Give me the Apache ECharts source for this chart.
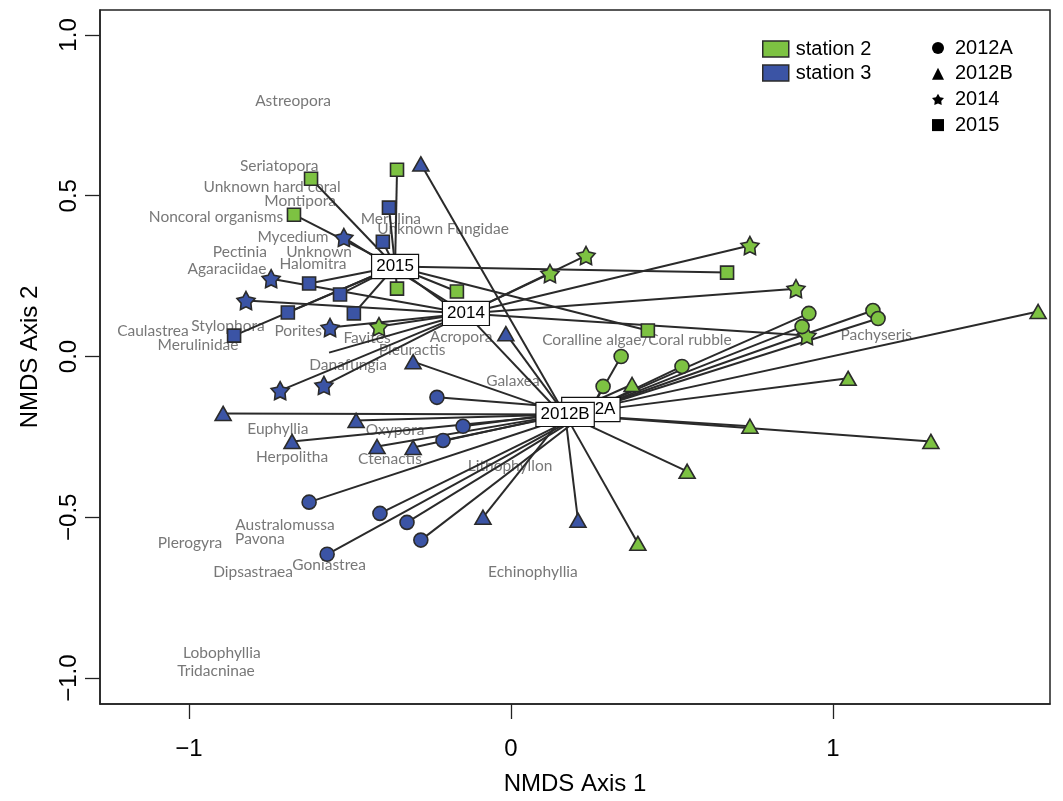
<!DOCTYPE html>
<html><head><meta charset="utf-8">
<script src="https://cdn.jsdelivr.net/npm/echarts@6/dist/echarts.min.js"></script>
<style>html,body{margin:0;padding:0;background:#fff}#c{width:1063px;height:801px}</style>
</head><body><div id="c"></div>
<script>
// ---- data (NMDS scores) ----
const st2_2012A = [[0.342,0.000],[0.286,-0.093],[0.531,-0.031],[0.925,0.134],[0.904,0.093],[1.124,0.143],[1.140,0.118]];
const st2_2012B = [[0.376,-0.087],[1.047,-0.068],[1.637,0.140],[0.742,-0.217],[1.304,-0.264],[0.547,-0.357],[0.394,-0.581]];
const st2_2014  = [[0.121,0.258],[0.233,0.314],[0.742,0.345],[0.885,0.211],[0.919,0.065],[-0.410,0.093]];
const st2_2015  = [[-0.621,0.553],[-0.354,0.581],[-0.674,0.441],[-0.354,0.211],[-0.168,0.202],[0.671,0.261],[0.425,0.081]];
const st3_2012A = [[-0.230,-0.127],[-0.149,-0.217],[-0.211,-0.261],[-0.627,-0.453],[-0.407,-0.488],[-0.323,-0.516],[-0.280,-0.571],[-0.571,-0.615]];
const st3_2012B = [[-0.280,0.599],[-0.016,0.071],[-0.304,-0.016],[-0.894,-0.177],[-0.481,-0.199],[-0.680,-0.264],[-0.416,-0.280],[-0.304,-0.283],[-0.087,-0.500],[0.208,-0.509]];
const st3_2014  = [[-0.519,0.370],[-0.745,0.242],[-0.823,0.174],[-0.562,0.090],[-0.717,-0.106],[-0.581,-0.090]];
const st3_2015  = [[-0.379,0.463],[-0.398,0.357],[-0.627,0.227],[-0.531,0.193],[-0.693,0.137],[-0.488,0.134],[-0.860,0.065]];
// spider ends whose markers are not visible (covered / not drawn)
const lineOnly2014 = [[-0.565,0.012],[0.152,-0.174]];
const lineOnly2015 = [[-0.152,0.127]];

const centroidNames = ['2012A','2012B','2014','2015'];
const centroidX = [0.248, 0.168, -0.140, -0.360];
const centroidY = [-0.165, -0.180, 0.134, 0.280];

const speciesNames = ['Astreopora','Seriatopora','Unknown hard coral','Montipora','Noncoral organisms','Merulina','Unknown Fungidae','Mycedium','Pectinia','Unknown','Halomitra','Agaraciidae','Stylophora','Caulastrea','Porites','Merulinidae','Favites','Pleuractis','Acropora','Danafungia','Coralline algae/Coral rubble','Pachyseris','Galaxea','Euphyllia','Oxypora','Herpolitha','Ctenactis','Lithophyllon','Australomussa','Pavona','Plerogyra','Goniastrea','Dipsastraea','Echinophyllia','Lobophyllia','Tridacninae'];
const speciesX = [-0.677,-0.720,-0.742,-0.655,-0.916,-0.373,-0.211,-0.677,-0.842,-0.596,-0.615,-0.882,-0.879,-1.112,-0.661,-0.972,-0.447,-0.307,-0.155,-0.506,0.391,1.134,0.006,-0.724,-0.360,-0.680,-0.376,-0.003,-0.702,-0.780,-0.997,-0.565,-0.801,0.068,-0.898,-0.916];
const speciesY = [0.795,0.593,0.528,0.484,0.435,0.429,0.398,0.373,0.326,0.326,0.289,0.273,0.096,0.078,0.078,0.037,0.056,0.019,0.062,-0.025,0.050,0.068,-0.075,-0.224,-0.230,-0.314,-0.320,-0.339,-0.525,-0.568,-0.581,-0.649,-0.671,-0.671,-0.922,-0.978];

const xTicks = [-1, 0, 1];
const yTicks = [-1, -0.5, 0, 0.5, 1];

// ---- styles ----
const GREEN = '#7dc242', BLUE = '#3b54a5', EDGE = '#2b2b2b';
const STAR = 'path://M50 0L65.87 28.16L97.55 34.55L75.68 58.34L79.39 90.45L50 77L20.61 90.45L24.32 58.34L2.45 34.55L34.13 28.16Z';
const fmtMinus = s => s.replace('-', '\u2212');

function spider(ci, pts) {
  const c = [centroidX[ci], centroidY[ci]];
  return pts.map(p => ({coords: [c, p]}));
}
const spiderData = [].concat(
  spider(0, st2_2012A), spider(0, st3_2012A),
  spider(1, st2_2012B), spider(1, st3_2012B),
  spider(2, st2_2014), spider(2, st3_2014), spider(2, lineOnly2014),
  spider(3, st2_2015), spider(3, st3_2015), spider(3, lineOnly2015)
);

function pts(name, data, color, symbol, size) {
  return {
    name, type: 'scatter', data, symbol, symbolSize: size, z: 4,
    itemStyle: {color, borderColor: EDGE, borderWidth: 1.6, opacity: 1},
    emphasis: {disabled: true}, silent: true
  };
}
function centroidSeries(i, z) {
  return {
    type: 'scatter', z, silent: true, symbolSize: 1,
    itemStyle: {color: '#fff', opacity: 1},
    data: [{name: centroidNames[i], value: [centroidX[i], centroidY[i]]}],
    label: {show: true, position: 'inside', formatter: '{b}', color: '#000', opacity: 1,
      fontFamily: 'Liberation Sans, Arial', fontSize: 17, lineHeight: 17,
      backgroundColor: '#ffffff', borderColor: '#111', borderWidth: 1.2, padding: [3, 4]}
  };
}
function legendDummy(name, color, symbol) {
  return {name, type: 'scatter', data: [], symbol: symbol || 'rect',
    itemStyle: {color, opacity: 1, borderColor: EDGE, borderWidth: 1.5}};
}

const option = {
  animation: false,
  backgroundColor: '#fff',
  grid: {left: 100, right: 13, top: 10, bottom: 96, show: true, borderColor: '#222', borderWidth: 1.5, containLabel: false},
  xAxis: {
    type: 'value', min: -1.2764, max: 1.6739,
    name: 'NMDS Axis 1', nameLocation: 'middle', nameGap: 68,
    nameTextStyle: {fontSize: 24, fontFamily: 'Liberation Sans, Arial', color: '#000'},
    axisLine: {show: true, onZero: false, lineStyle: {color: '#222', width: 1.5}},
    axisTick: {show: true, inside: false, length: 15, customValues: xTicks, lineStyle: {color: '#222', width: 1.3}},
    axisLabel: {customValues: xTicks, fontSize: 24, fontFamily: 'Liberation Sans, Arial', color: '#000', margin: 33,
      formatter: v => fmtMinus(String(v))},
    splitLine: {show: false}
  },
  yAxis: {
    type: 'value', min: -1.0807, max: 1.0776,
    name: 'NMDS Axis 2', nameLocation: 'middle', nameGap: 58, nameRotate: 90,
    nameTextStyle: {fontSize: 24, fontFamily: 'Liberation Sans, Arial', color: '#000'},
    axisLine: {show: true, onZero: false, lineStyle: {color: '#222', width: 1.5}},
    axisTick: {show: true, inside: false, length: 15, customValues: yTicks, lineStyle: {color: '#222', width: 1.3}},
    axisLabel: {customValues: yTicks, rotate: 90, fontSize: 24, fontFamily: 'Liberation Sans, Arial', color: '#000', margin: 19,
      formatter: v => fmtMinus(Number(v).toFixed(1))},
    splitLine: {show: false}
  },
  legend: [
    {
      data: ['station 2', 'station 3'], orient: 'vertical', left: 757, top: 34,
      icon: 'rect', itemWidth: 26, itemHeight: 16, itemGap: 4, selectedMode: false,
      itemStyle: {borderColor: EDGE, borderWidth: 1.5, opacity: 1},
      textStyle: {fontSize: 20, fontFamily: 'Liberation Sans, Arial', color: '#000', padding: [0, 0, 0, 2]}
    },
    {
      data: [{name: '2012A', icon: 'circle'}, {name: '2012B', icon: 'triangle'}, {name: '2014', icon: STAR}, {name: '2015', icon: 'rect'}],
      orient: 'vertical', left: 927, top: 33, itemWidth: 12, itemHeight: 12, itemGap: 5.7, selectedMode: false,
      itemStyle: {borderWidth: 0, opacity: 1},
      textStyle: {fontSize: 20, fontFamily: 'Liberation Sans, Arial', color: '#000', padding: [0, 0, 0, 6]}
    }
  ],
  series: [
    {
      type: 'scatter', z: 1, silent: true, symbolSize: 1, itemStyle: {color: 'rgba(0,0,0,0)'},
      data: speciesNames.map((n, i) => ({name: n, value: [speciesX[i], speciesY[i]]})),
      label: {show: true, position: 'inside', formatter: '{b}', color: '#555', fontFamily: 'Lato, Open Sans', fontSize: 15.5}
    },
    {
      type: 'lines', coordinateSystem: 'cartesian2d', z: 2, silent: true,
      data: spiderData, lineStyle: {color: '#2a2a2a', width: 2, opacity: 1}
    },
    pts('s2 2015', st2_2015, GREEN, 'rect', 13),
    pts('s3 2015', st3_2015, BLUE, 'rect', 13),
    pts('s2 2014', st2_2014, GREEN, STAR, 18),
    pts('s3 2014', st3_2014, BLUE, STAR, 18),
    pts('s2 2012B', st2_2012B, GREEN, 'triangle', [16, 14]),
    pts('s3 2012B', st3_2012B, BLUE, 'triangle', [16, 14]),
    pts('s2 2012A', st2_2012A, GREEN, 'circle', 14),
    pts('s3 2012A', st3_2012A, BLUE, 'circle', 14),
    centroidSeries(3, 6), centroidSeries(2, 6), centroidSeries(0, 7), centroidSeries(1, 8),
    // legend entries
    legendDummy('station 2', GREEN),
    legendDummy('station 3', BLUE),
    legendDummy('2012A', '#000', 'circle'),
    legendDummy('2012B', '#000', 'triangle'),
    legendDummy('2014', '#000', STAR),
    legendDummy('2015', '#000', 'rect')
  ]
};
const chart = echarts.init(document.getElementById('c'), null, {renderer: 'canvas'});
chart.setOption(option);
</script></body></html>
